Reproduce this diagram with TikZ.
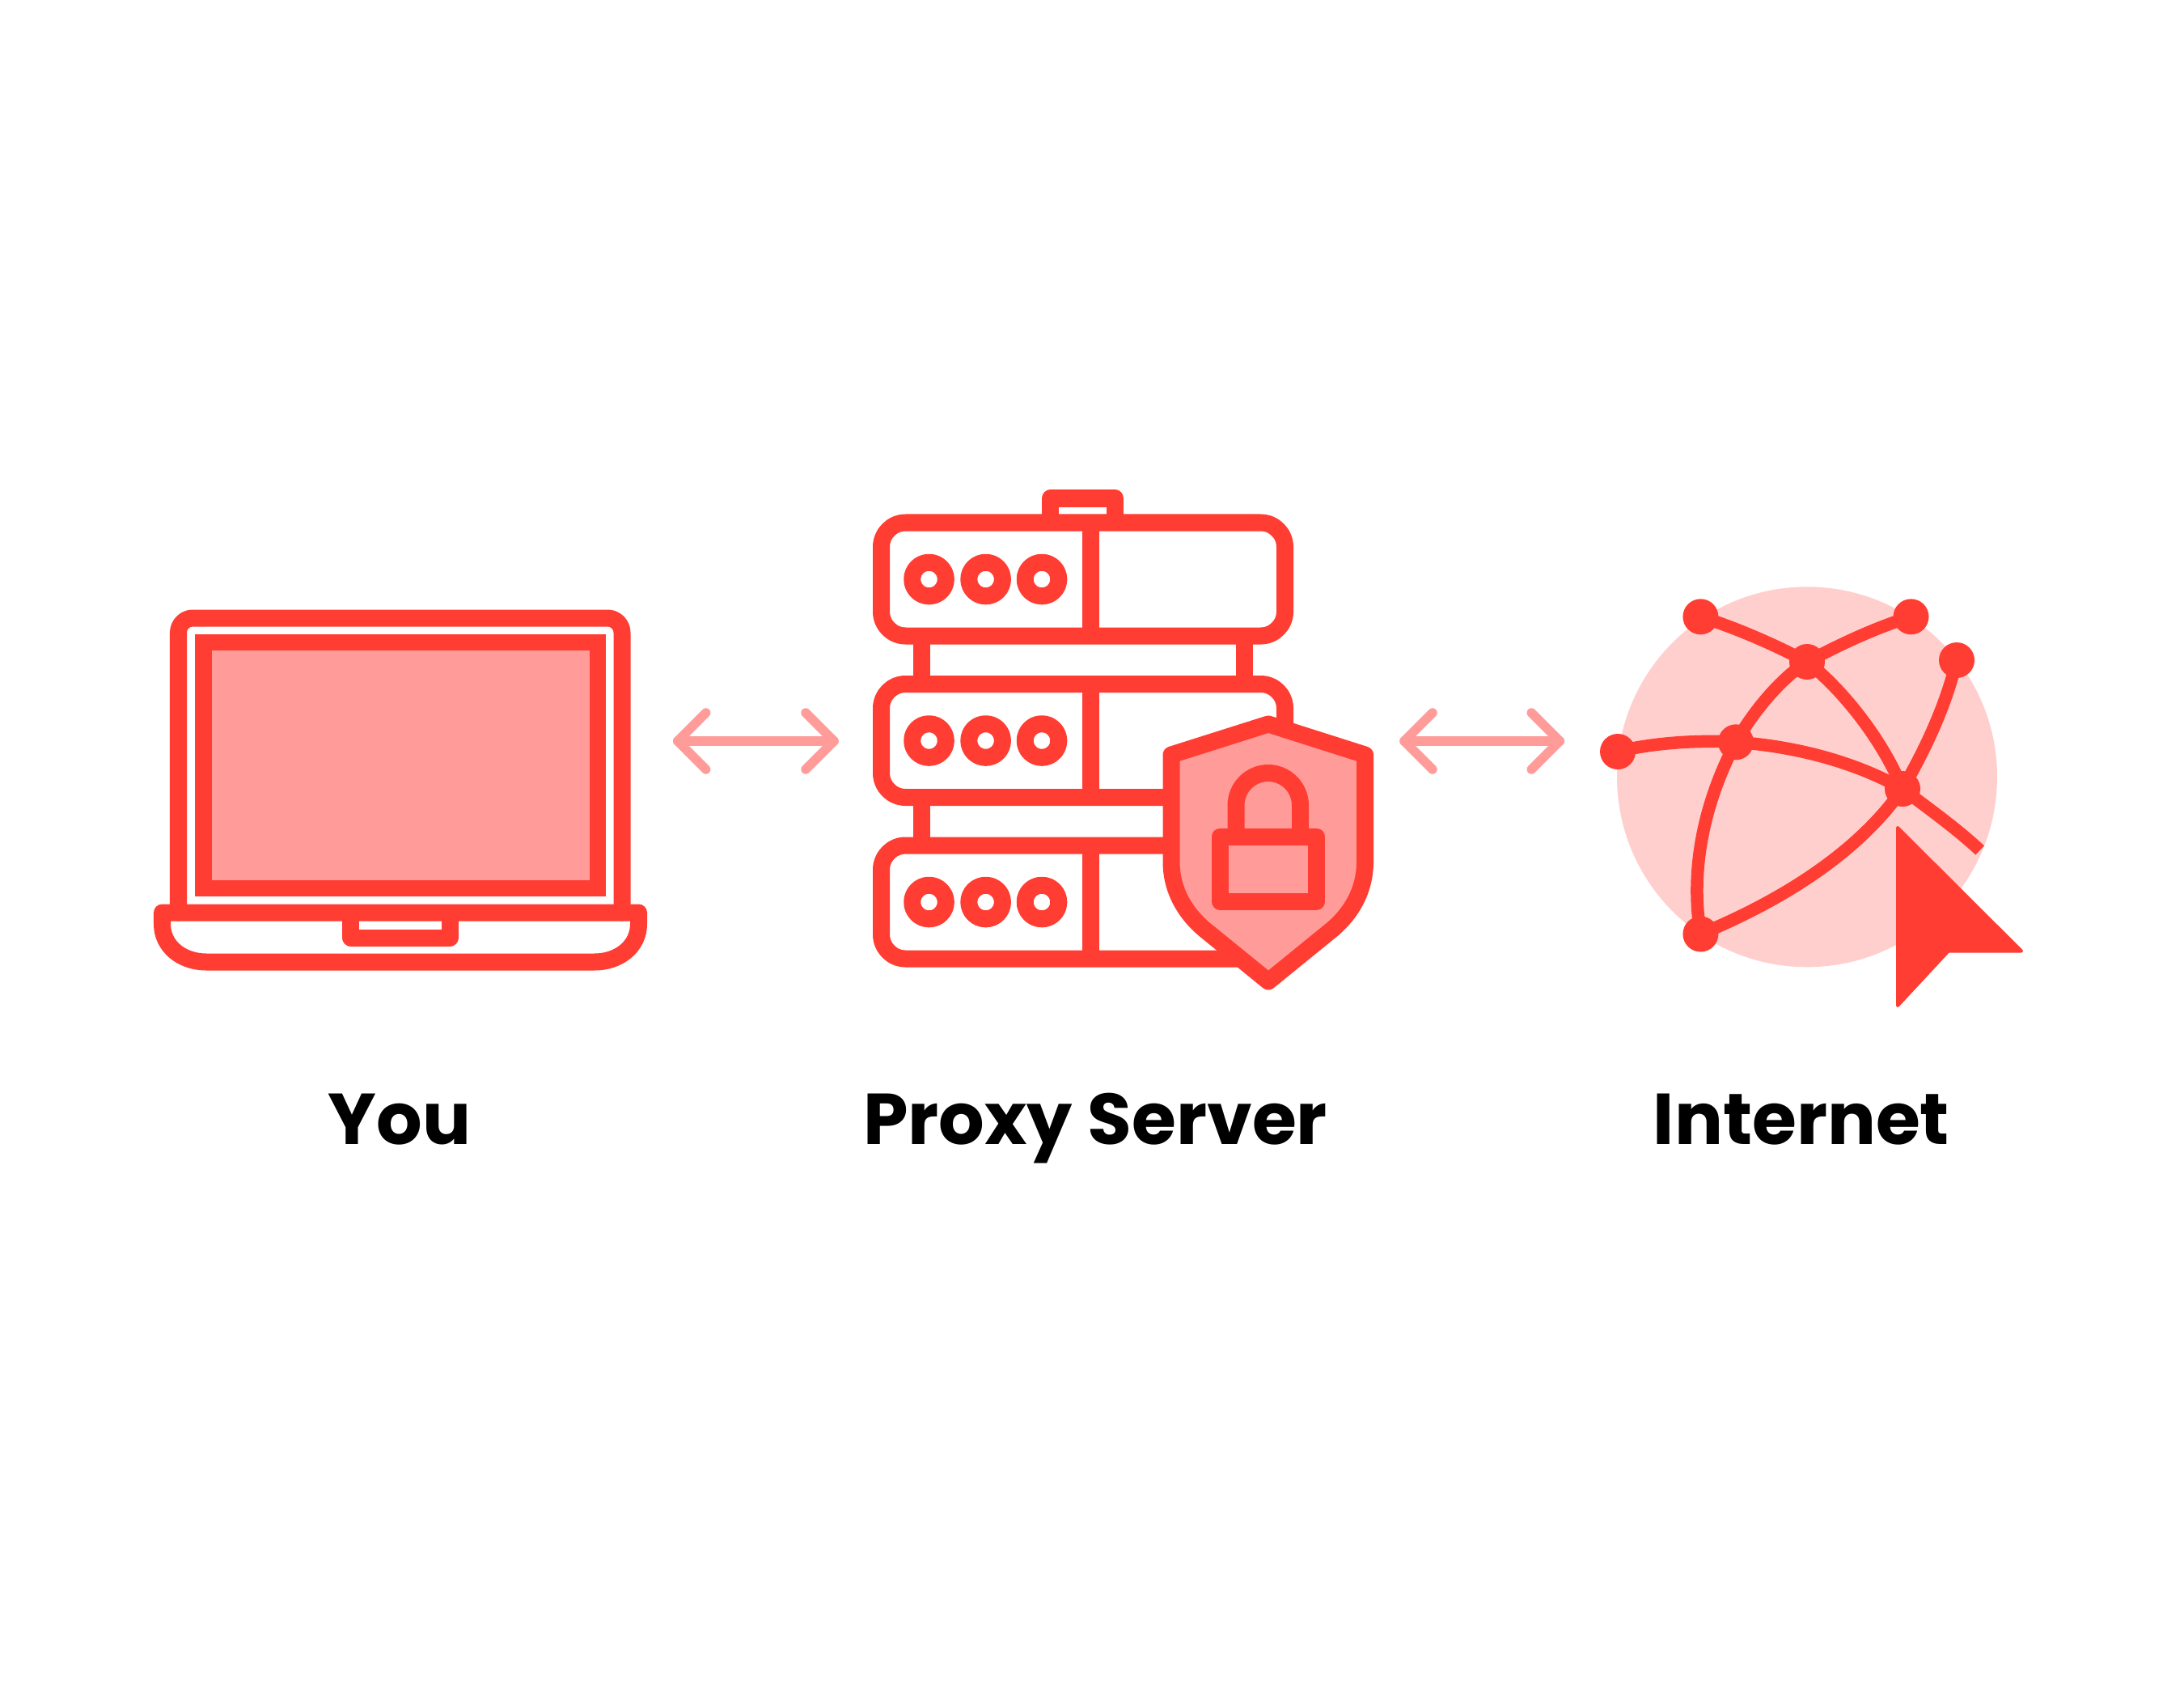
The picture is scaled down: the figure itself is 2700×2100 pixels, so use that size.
\documentclass[tikz,border=0pt]{standalone}
\usepackage{fontspec}
\setmainfont{Poppins}
\usetikzlibrary{calc}
\definecolor{proxyred}{HTML}{FF3D33}
\definecolor{proxypink}{HTML}{FF9C9A}
\definecolor{globepink}{HTML}{FFCFCE}
\tikzset{
  icon/.style={draw=proxyred, line width=0.21cm, line join=round, line cap=round},
  post/.style={icon, line cap=butt},
  wire/.style={draw=proxyred, line width=0.155cm, line cap=butt},
  hub/.style={fill=proxyred, draw=none},
  link/.style={draw=proxypink, line width=0.115cm, line cap=round, line join=round},
  caption/.style={font=\fontsize{25.3}{30}\selectfont\bfseries, text=black, inner sep=0pt, anchor=base}
}
\begin{document}
\begin{tikzpicture}[x=0.01cm, y=-0.01cm, line cap=round, line join=round]
\useasboundingbox (0,0) rectangle (2700,2100);

% laptop
\begin{scope}
\draw[icon] (220.5,1128) -- (220.5,782) arc (180:270:18) -- (751,764) arc (270:360:18) -- (769,1128);
\draw[draw=proxyred, fill=proxypink, line width=0.2cm, line join=miter] (251.5,794) rectangle (738.5,1098);
\draw[icon] (200.5,1128) -- (789.5,1128) -- (789.5,1142) .. controls (789.5,1170) and (765,1189) .. (735,1189) -- (255,1189) .. controls (225,1189) and (200.5,1170) .. (200.5,1142) -- cycle;
\draw[post, line join=round] (433.7,1128) -- (433.7,1159) -- (556,1159) -- (556,1128);
\end{scope}

% server
\draw[post] (1298.5,646) -- (1298.5,616) -- (1378.5,616) -- (1378.5,646);
\draw[post] (1139,786) -- (1139,845.5);
\draw[post] (1538,786) -- (1538,845.5);
\draw[post] (1139,985) -- (1139,1044.7);
\foreach \rackshift in {0,199.5,399} {
\begin{scope}[shift={(0,\rackshift)}]
  \draw[icon, rounded corners=0.3cm] (1089.5,646) rectangle (1588.5,786);
  \draw[post] (1348.5,646) -- (1348.5,786);
  \foreach \ledx in {1148.5,1218.6,1288} {
    \draw[icon] (\ledx,716) circle (20.8);
  }
\end{scope}
}

% shield with lock
\draw[icon, fill=proxypink] (1568,895) -- (1687.5,933) -- (1687.5,1065) .. controls (1687.5,1105) and (1666,1134) .. (1643,1152) -- (1568,1213) -- (1493,1152) .. controls (1470,1134) and (1448,1105) .. (1448,1065) -- (1448,933) -- cycle;
\draw[post] (1528,1034) -- (1528,995.5) arc (180:360:39.75 and 40) -- (1607.5,1034);
\draw[icon] (1508,1034) rectangle (1627.5,1114);

% globe
\fill[globepink] (2234,960.3) circle (235);
\coordinate (nw) at (2102.4,762.3);
\coordinate (ne) at (2362.5,762.3);
\coordinate (farne) at (2419,816);
\coordinate (north) at (2234,818);
\coordinate (mid) at (2146,917.3);
\coordinate (west) at (2000,929);
\coordinate (hub) at (2352,975);
\coordinate (south) at (2102.4,1154.5);
\coordinate (rim) at (2447.6,1051);
\draw[wire] (nw) .. controls (2146,776) and (2192,796) .. (north);
\draw[wire] (ne) .. controls (2318,776) and (2276,796) .. (north);
\draw[wire] (north) .. controls (2205,836) and (2170,875) .. (mid);
\draw[wire] (north) .. controls (2275,850) and (2325,910) .. (hub);
\draw[wire] (west) .. controls (2035,920) and (2090,914) .. (mid);
\draw[wire] (mid) .. controls (2215,922) and (2290,940) .. (hub);
\draw[wire] (mid) .. controls (2110,985) and (2088,1070) .. (south);
\draw[wire] (hub) .. controls (2300,1050) and (2210,1110) .. (south);
\draw[wire] (hub) .. controls (2378,930) and (2405,875) .. (farne);
\draw[wire] (hub) .. controls (2385,1000) and (2420,1025) .. (rim);
\foreach \hubname in {nw,ne,farne,north,mid,west,hub,south} {
  \fill[hub] (\hubname) circle (22);
}
\fill[proxyred, draw=proxyred, line width=0.04cm] (2346,1023) -- (2499,1175.5) -- (2408.7,1175.5) -- (2346,1243) -- cycle;

% double arrows
\coordinate (youend) at (837.7,916);
\coordinate (proxyin) at (1031,916);
\coordinate (proxyout) at (1736,916);
\coordinate (netin) at (1928.3,916);
\draw[link] (youend) -- (proxyin);
\draw[link] (proxyout) -- (netin);
\draw[link] ($(youend)+(35,-35)$) -- (youend) -- ($(youend)+(35,35)$);
\draw[link] ($(proxyin)+(-35,-35)$) -- (proxyin) -- ($(proxyin)+(-35,35)$);
\draw[link] ($(proxyout)+(35,-35)$) -- (proxyout) -- ($(proxyout)+(35,35)$);
\draw[link] ($(netin)+(-35,-35)$) -- (netin) -- ($(netin)+(-35,35)$);

% captions
\node[caption] (you) at (494,1414) {You};
\node[caption] (proxy) at (1354,1414) {Proxy Server};
\node[caption] (internet) at (2227,1414) {Internet};
\end{tikzpicture}
\end{document}
